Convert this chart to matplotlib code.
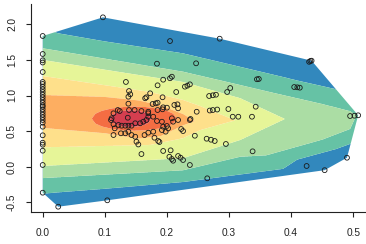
import numpy as np
import matplotlib
matplotlib.use("Agg")
import matplotlib.pyplot as plt
from matplotlib.patches import Polygon

# ---------------- data: observation points ----------------
col_y = [1.836, 1.583, 1.494, 1.463, 1.330, 1.190, 1.162, 1.124, 1.087, 1.049,
         1.011, 0.975, 0.937, 0.899, 0.862, 0.843, 0.806, 0.768, 0.730, 0.694,
         0.656, 0.618, 0.562, 0.441, 0.337, 0.309, 0.225, 0.024, -0.365]
pts_x = [0.0] * len(col_y) + [
    0.025, 0.104, 0.097, 0.285, 0.205, 0.184, 0.247, 0.429, 0.431, 0.433,
    0.345, 0.348, 0.405, 0.410, 0.414, 0.134, 0.194, 0.205, 0.208, 0.185,
    0.215, 0.139, 0.141, 0.138, 0.173, 0.167, 0.165, 0.229, 0.233, 0.237,
    0.302, 0.297, 0.268, 0.274, 0.279, 0.193, 0.185, 0.177, 0.217, 0.194,
    0.193, 0.248, 0.269, 0.274, 0.281, 0.299, 0.178, 0.306, 0.315, 0.337,
    0.343, 0.495, 0.502, 0.508, 0.238,
    0.138, 0.139, 0.182, 0.185, 0.200, 0.212, 0.218, 0.159, 0.170, 0.148,
    0.124, 0.121, 0.114, 0.111, 0.110,
    0.114, 0.116, 0.122, 0.127, 0.133, 0.138, 0.143, 0.149, 0.157, 0.162,
    0.167, 0.170, 0.170, 0.137,
    0.114, 0.126, 0.133, 0.138, 0.143, 0.149, 0.151, 0.154, 0.164, 0.170,
    0.178, 0.180, 0.186, 0.192, 0.194, 0.198, 0.202, 0.208, 0.192, 0.184,
    0.218, 0.223, 0.226, 0.200, 0.210, 0.237,
    0.159, 0.194, 0.206, 0.204, 0.208, 0.210, 0.218, 0.222, 0.226, 0.237,
    0.265, 0.245, 0.264, 0.271, 0.277, 0.295, 0.338, 0.425, 0.454, 0.490,
    0.188]
pts_y = col_y + [
    -0.562, -0.472, 2.098, 1.798, 1.765, 1.447, 1.452, 1.473, 1.485, 1.489,
    1.228, 1.232, 1.119, 1.115, 1.110, 1.190, 1.222, 1.242, 1.264, 1.143,
    1.049, 1.063, 1.017, 0.983, 1.031, 0.975, 0.961, 1.124, 1.138, 1.157,
    1.105, 1.049, 0.993, 1.003, 1.011, 0.975, 0.899, 0.881, 0.876, 0.834,
    0.806, 0.772, 0.789, 0.796, 0.803, 0.810, 0.702, 0.702, 0.702, 0.702,
    0.843, 0.712, 0.716, 0.722, 0.670,
    0.885, 0.796, 0.890, 0.796, 0.829, 0.867, 0.820, 0.782, 0.772, 0.796,
    0.782, 0.796, 0.750, 0.680, 0.656,
    0.596, 0.539, 0.586, 0.576, 0.576, 0.576, 0.576, 0.610, 0.610, 0.632,
    0.656, 0.702, 0.750, 0.688,
    0.445, 0.469, 0.469, 0.492, 0.445, 0.421, 0.351, 0.312, 0.445, 0.478,
    0.492, 0.407, 0.361, 0.515, 0.562, 0.492, 0.539, 0.680, 0.632, 0.642,
    0.656, 0.529, 0.501, 0.572, 0.632, 0.656,
    0.178, 0.221, 0.230, 0.140, 0.108, 0.084, 0.150, 0.126, 0.094, 0.024,
    -0.163, 0.435, 0.393, 0.379, 0.361, 0.319, 0.216, 0.010, -0.049, 0.126,
    0.347]

# ---------------- data: band boundaries ----------------
# level k: x anchors, lower boundary y, upper boundary y
b1_x = [0.0, 0.025, 0.10, 0.226, 0.387, 0.41, 0.473, 0.495, 0.55]
b1_lo = [-0.379, -0.36, -0.31, -0.215, -0.03, 0.10, 0.25, 0.32, 0.45]
b1_hi = [1.95, 1.873, 1.76, 1.592, 1.26, 1.21, 1.087, 1.04, 0.92]

b2_x = [0.0, 0.226, 0.318, 0.36, 0.45, 0.495, 0.505]
b2_lo = [-0.16, -0.05, 0.14, 0.16, 0.38, 0.53, 0.72]
b2_hi = [1.663, 1.334, 1.147, 1.06, 0.88, 0.78, 0.72]

b3_x = [0.0, 0.226, 0.318, 0.39]
b3_lo = [0.01, 0.12, 0.375, 0.67]
b3_hi = [1.499, 1.19, 0.962, 0.67]

b4_x = [0.0, 0.173, 0.226, 0.254, 0.302, 0.31]
b4_lo = [0.272, 0.305, 0.40, 0.515, 0.632, 0.65]
b4_hi = [1.274, 1.05, 0.937, 0.85, 0.68, 0.65]

b5_x = [0.0, 0.10, 0.155, 0.19, 0.226, 0.245]
b5_lo = [0.545, 0.47, 0.395, 0.43, 0.58, 0.64]
b5_hi = [1.007, 0.98, 0.93, 0.86, 0.74, 0.64]

b6_x = [0.079, 0.085, 0.095, 0.11, 0.13, 0.1476, 0.165, 0.185, 0.20, 0.21, 0.2163]
b6_lo = [0.675, 0.605, 0.566, 0.534, 0.512, 0.506, 0.512, 0.533, 0.565, 0.604, 0.675]
b6_hi = [0.675, 0.745, 0.784, 0.816, 0.838, 0.844, 0.838, 0.817, 0.785, 0.746, 0.675]

b7_x = [0.1084, 0.112, 0.118, 0.128, 0.1414, 0.155, 0.165, 0.171, 0.1744]
b7_lo = [0.675, 0.622, 0.593, 0.568, 0.558, 0.568, 0.593, 0.623, 0.675]
b7_hi = [0.675, 0.728, 0.757, 0.782, 0.792, 0.782, 0.757, 0.727, 0.675]

bands = [(b1_x, b1_lo, b1_hi), (b2_x, b2_lo, b2_hi), (b3_x, b3_lo, b3_hi),
         (b4_x, b4_lo, b4_hi), (b5_x, b5_lo, b5_hi), (b6_x, b6_lo, b6_hi),
         (b7_x, b7_lo, b7_hi)]

palette = ["#3288BD", "#66C2A5", "#ABDDA4", "#E6F598",
           "#FEE08B", "#FDAE61", "#F46D43", "#D53E4F"]

x_ticks = [0.0, 0.1, 0.2, 0.3, 0.4, 0.5]
x_labels = ["0.0", "0.1", "0.2", "0.3", "0.4", "0.5"]
y_ticks = [-0.5, 0.0, 0.5, 1.0, 1.5, 2.0]
y_labels = ["-0.5", "0.0", "0.5", "1.0", "1.5", "2.0"]

# ---------------- build level field ----------------
xg = np.linspace(-0.01, 0.53, 900)
yg = np.linspace(-0.7, 2.3, 1100)
X, Y = np.meshgrid(xg, yg)
Z = np.zeros_like(X)
for bx, blo, bhi in bands:
    lo = np.interp(xg, bx, blo, left=np.nan, right=np.nan)
    hi = np.interp(xg, bx, bhi, left=np.nan, right=np.nan)
    inside = (Y > lo[None, :]) & (Y < hi[None, :])
    Z += np.where(inside, 1.0, 0.0)

# convex hull of the points
def convex_hull(xs, ys):
    P = sorted(set(zip(xs, ys)))
    def cross(o, a, b):
        return (a[0]-o[0])*(b[1]-o[1]) - (a[1]-o[1])*(b[0]-o[0])
    lower, upper = [], []
    for p in P:
        while len(lower) >= 2 and cross(lower[-2], lower[-1], p) <= 0:
            lower.pop()
        lower.append(p)
    for p in reversed(P):
        while len(upper) >= 2 and cross(upper[-2], upper[-1], p) <= 0:
            upper.pop()
        upper.append(p)
    return lower[:-1] + upper[:-1]

hull = convex_hull(pts_x, pts_y)

# ---------------- plot ----------------
plt.rcParams['font.family'] = ['Liberation Sans', 'DejaVu Sans']
fig = plt.figure(figsize=(3.66, 2.44), dpi=100)
ax = fig.add_axes([30.7/366, (244-212.3)/244, 1 - 30.7/366, (212.3-4.3)/244])

cs = ax.contourf(X, Y, Z, levels=np.arange(-0.5, 8.0, 1.0), colors=palette,
                 antialiased=True)
clip = Polygon(hull, closed=True, transform=ax.transData, facecolor='none',
               edgecolor='none')
ax.add_patch(clip)
cs.set_clip_path(clip)

ax.scatter(pts_x, pts_y, s=12, facecolors='none', edgecolors='#1a1a1a',
           linewidths=0.6, zorder=3)

ax.set_xlim((30.7-42.7)/621, (366-42.7)/621)
ax.set_ylim((166.7-212.3)/71.2, (166.7-4.3)/71.2)

for s in ['top', 'right']:
    ax.spines[s].set_visible(False)
for s in ['left', 'bottom']:
    ax.spines[s].set_linewidth(0.8)
    ax.spines[s].set_color('#222222')

ax.set_xticks(x_ticks)
ax.set_xticklabels(x_labels)
ax.set_yticks(y_ticks)
ax.set_yticklabels(y_labels, rotation=90, va='center')
ax.tick_params(axis='both', length=3.4, width=0.8, color='#222222',
               labelsize=7.3, labelcolor='#222222')
ax.tick_params(axis='x', pad=8)
ax.tick_params(axis='y', pad=6.5)

fig.savefig("out.png", dpi=100)
